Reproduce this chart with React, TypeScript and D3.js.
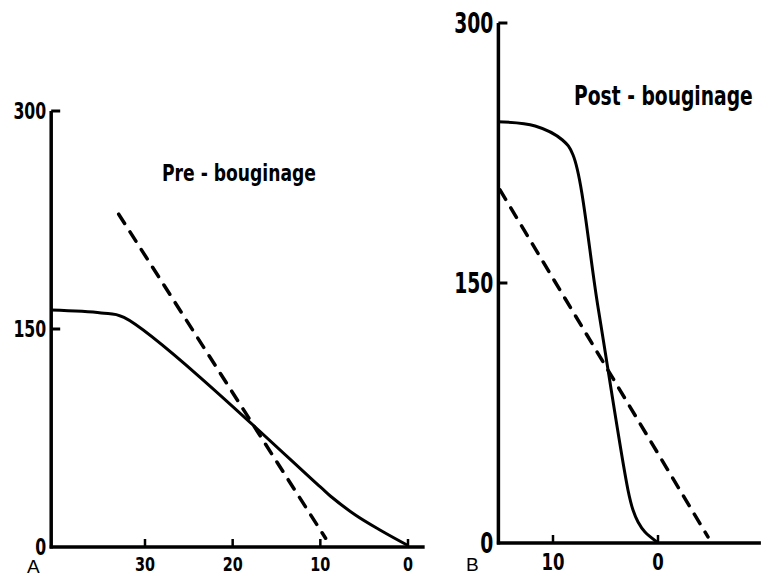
import * as d3 from 'd3';

// Panel A (pre-bouginage): x runs right to left
const preSolidX = [40.7, 35, 32.4, 10, 8.86, 6.0, 3.2, 0];
const preSolidY = [163, 161, 158, 41.3, 35.1, 22.0, 11.7, 1];
const preDashX = [33, 9.4];
const preDashY = [229, 6];
const preXTicks = [30, 20, 10, 0];
const preXExtent = [40.7, -1.9];

// Panel B (post-bouginage)
const postSolidX = [15.3, 11.7, 9.1, 8.1, 5.7, 2.86, 2.38, 1.9, 1.24, 0.1];
const postSolidY = [243, 240.6, 232.5, 224, 135.6, 30.6, 19.0, 12.1, 6.3, 0.6];
const postDashX = [15.05, -4.76];
const postDashY = [203.7, 3.5];
const postXTicks = [10, 0];
const postXExtent = [15.2, -9.8];

const yTicks = [300, 150, 0];

const FONT = '"Liberation Sans Narrow", "DejaVu Sans Condensed", sans-serif';

type PanelProps = {
  x: d3.ScaleLinear<number, number>;
  y: d3.ScaleLinear<number, number>;
  xExtent: number[];
  xTicks: number[];
  solidX: number[];
  solidY: number[];
  dashX: number[];
  dashY: number[];
  yFont: number;
  yScaleX: number;
  xFont: number;
  xScaleX: number;
  xLabelDy: number;
  title: string;
  titleX: number;
  titleY: number;
  titleFont: number;
  titleScaleX: number;
  letter: string;
  letterX: number;
  letterY: number;
};

function Panel(p: PanelProps) {
  const { x, y } = p;
  const x0 = x(p.xExtent[0]);
  const path = (xs: number[], ys: number[]) =>
    d3
      .line<[number, number]>()
      .x((d) => x(d[0]))
      .y((d) => y(d[1]))
      .curve(d3.curveCatmullRom.alpha(0.5))(xs.map((v, i) => [v, ys[i]] as [number, number]));

  return (
    <g>
      {/* axes */}
      <line x1={x0} x2={x0} y1={y(0) + 1.5} y2={y(300)} stroke="#000" strokeWidth={3.5} />
      <line x1={x0 - 1.5} x2={x(p.xExtent[1])} y1={y(0)} y2={y(0)} stroke="#000" strokeWidth={3.5} />
      {yTicks
        .filter((t) => t > 0)
        .map((t) => (
          <line key={t} x1={x0} x2={x0 + 9} y1={y(t)} y2={y(t)} stroke="#000" strokeWidth={3} />
        ))}
      {p.xTicks.map((t) => (
        <line key={t} x1={x(t)} x2={x(t)} y1={y(0)} y2={y(0) - 8} stroke="#000" strokeWidth={2.5} />
      ))}
      {yTicks.map((t) => (
        <text
          key={t}
          transform={`translate(${x0 - 5},${y(t)}) scale(${p.yScaleX},1)`}
          textAnchor="end"
          dominantBaseline="central"
          fontFamily={FONT}
          fontWeight="bold"
          fontSize={p.yFont}
        >
          {t}
        </text>
      ))}
      {p.xTicks.map((t) => (
        <text
          key={t}
          transform={`translate(${x(t)},${y(0) + p.xLabelDy}) scale(${p.xScaleX},1)`}
          textAnchor="middle"
          fontFamily={FONT}
          fontWeight="bold"
          fontSize={p.xFont}
        >
          {t}
        </text>
      ))}
      {/* curves */}
      <path d={path(p.solidX, p.solidY) ?? ''} fill="none" stroke="#000" strokeWidth={3} strokeLinejoin="round" />
      <path
        d={path(p.dashX, p.dashY) ?? ''}
        fill="none"
        stroke="#000"
        strokeWidth={3.5}
        strokeDasharray="11 10"
        strokeLinecap="round"
      />
      <text
        transform={`translate(${p.titleX},${p.titleY}) scale(${p.titleScaleX},1)`}
        fontFamily={FONT}
        fontWeight="bold"
        fontSize={p.titleFont}
      >
        {p.title}
      </text>
      <text x={p.letterX} y={p.letterY} fontFamily='"Liberation Sans", sans-serif' fontSize={19}>
        {p.letter}
      </text>
    </g>
  );
}

export default function App() {
  const xA = d3.scaleLinear().domain([30, 0]).range([145, 408]);
  const yA = d3.scaleLinear().domain([0, 300]).range([547, 111]);
  const xB = d3.scaleLinear().domain([10, 0]).range([553, 658]);
  const yB = d3.scaleLinear().domain([0, 300]).range([543, 23]);

  return (
    <svg
      width={765}
      height={576}
      style={{ position: 'absolute', left: 0, top: 0, background: '#fff' }}
    >
      <Panel
        x={xA}
        y={yA}
        xExtent={preXExtent}
        xTicks={preXTicks}
        solidX={preSolidX}
        solidY={preSolidY}
        dashX={preDashX}
        dashY={preDashY}
        yFont={23}
        yScaleX={0.76}
        xFont={20}
        xScaleX={0.8}
        xLabelDy={24}
        title="Pre - bouginage"
        titleX={162}
        titleY={181}
        titleFont={23}
        titleScaleX={0.83}
        letter="A"
        letterX={27}
        letterY={573}
      />
      <Panel
        x={xB}
        y={yB}
        xExtent={postXExtent}
        xTicks={postXTicks}
        solidX={postSolidX}
        solidY={postSolidY}
        dashX={postDashX}
        dashY={postDashY}
        yFont={29}
        yScaleX={0.72}
        xFont={23}
        xScaleX={0.8}
        xLabelDy={27}
        title="Post - bouginage"
        titleX={574}
        titleY={105}
        titleFont={26}
        titleScaleX={0.8}
        letter="B"
        letterX={466}
        letterY={571}
      />
    </svg>
  );
}
